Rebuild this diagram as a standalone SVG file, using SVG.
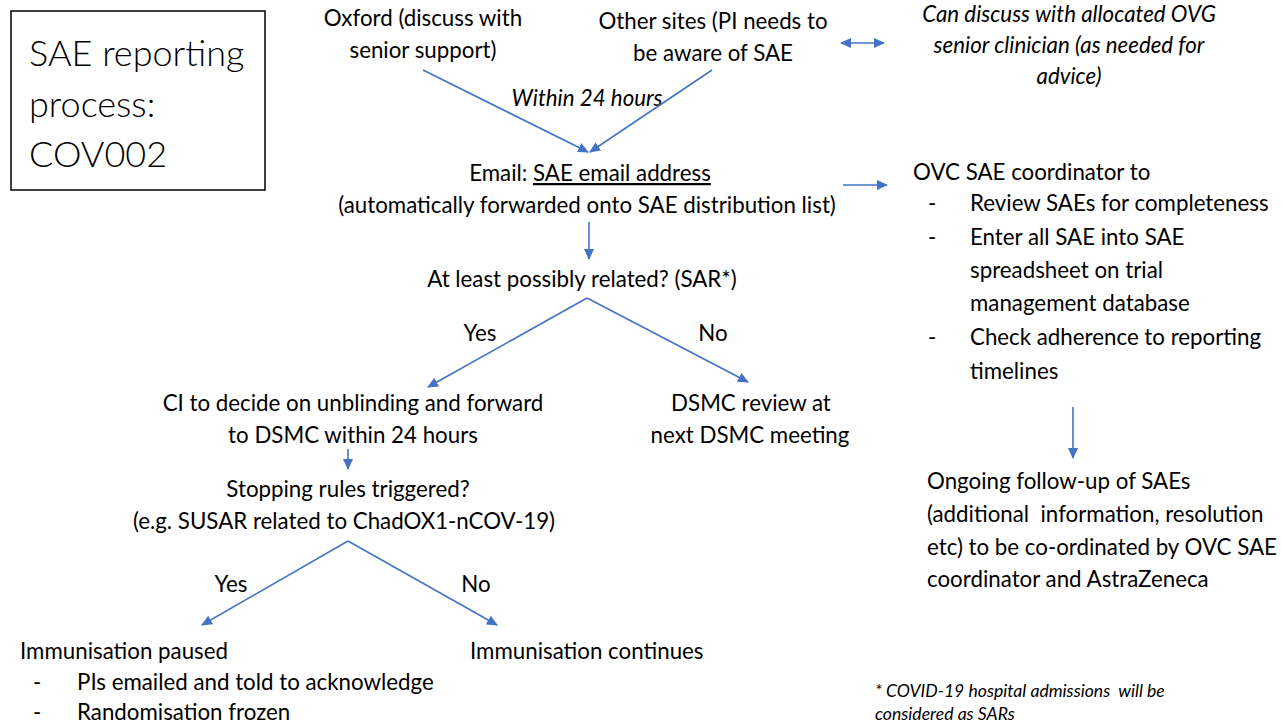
<svg xmlns="http://www.w3.org/2000/svg" width="1282" height="726" viewBox="0 0 1282 726">
<style>
  text { font-family: Lato, "Liberation Sans", sans-serif; font-size: 22.3px; fill: #000; }
  .c { text-anchor: middle; }
  .it { font-style: italic; }
  .title { font-size: 36px; font-weight: 300; }
  .foot { font-size: 17.6px; font-style: italic; }
  .ln { stroke: #4472C4; stroke-width: 1.6; fill: none; }
</style>
<defs>
  <marker id="ah" markerUnits="userSpaceOnUse" markerWidth="12" markerHeight="10" refX="10" refY="5" orient="auto-start-reverse">
    <path d="M0,0 L11,5 L0,10 Z" fill="#4472C4"/>
  </marker>
</defs>

<g id="title">
  <rect x="11" y="11" width="254" height="179" fill="#fff" stroke="#000" stroke-width="1.5"/>
  <text class="title" x="29" y="66">SAE reporting</text>
  <text class="title" x="29" y="117">process:</text>
  <text class="title" x="29" y="167">COV002</text>
</g>

<g id="oxford">
  <text class="c" x="423" y="26">Oxford (discuss with</text>
  <text class="c" x="423" y="58">senior support)</text>
</g>
<g id="other-sites">
  <text class="c" x="713" y="29">Other sites (PI needs to</text>
  <text class="c" x="713" y="61">be aware of SAE</text>
</g>
<g id="ovg-advice">
  <text class="c it" x="1069" y="22">Can discuss with allocated OVG</text>
  <text class="c it" x="1069" y="53">senior clinician (as needed for</text>
  <text class="c it" x="1069" y="84">advice)</text>
</g>
<g id="within-label">
  <text class="c it" x="587" y="106">Within 24 hours</text>
</g>
<g id="email">
  <text class="c" x="590" y="181">Email: <tspan text-decoration="underline">SAE email address</tspan></text>
  <text class="c" x="587" y="213">(automatically forwarded onto SAE distribution list)</text>
</g>
<g id="ovc-coordinator">
  <text x="913" y="180">OVC SAE coordinator to</text>
  <text x="928" y="211">-</text>
  <text x="970" y="211">Review SAEs for completeness</text>
  <text x="928" y="245">-</text>
  <text x="970" y="245">Enter all SAE into SAE</text>
  <text x="970" y="278">spreadsheet on trial</text>
  <text x="970" y="311">management database</text>
  <text x="928" y="345">-</text>
  <text x="970" y="345">Check adherence to reporting</text>
  <text x="970" y="379">timelines</text>
</g>
<g id="related-question">
  <text class="c" x="582" y="287">At least possibly related? (SAR*)</text>
</g>
<g id="branch1-labels">
  <text class="c" x="480" y="341">Yes</text>
  <text class="c" x="713" y="341">No</text>
</g>
<g id="ci-decide">
  <text class="c" x="353" y="411">CI to decide on unblinding and forward</text>
  <text class="c" x="353" y="443">to DSMC within 24 hours</text>
</g>
<g id="dsmc-review">
  <text class="c" x="751" y="411">DSMC review at</text>
  <text class="c" x="750" y="443">next DSMC meeting</text>
</g>
<g id="stopping-rules">
  <text class="c" x="348" y="497">Stopping rules triggered?</text>
  <text class="c" x="344" y="529">(e.g. SUSAR related to ChadOX1-nCOV-19)</text>
</g>
<g id="branch2-labels">
  <text class="c" x="231" y="592">Yes</text>
  <text class="c" x="476" y="592">No</text>
</g>
<g id="paused">
  <text x="20" y="659">Immunisation paused</text>
  <text x="33" y="690">-</text>
  <text x="77" y="690">PIs emailed and told to acknowledge</text>
  <text x="33" y="720">-</text>
  <text x="77" y="720">Randomisation frozen</text>
</g>
<g id="continues">
  <text x="470" y="659">Immunisation continues</text>
</g>
<g id="followup">
  <text x="927" y="489">Ongoing follow-up of SAEs</text>
  <text x="927" y="522" xml:space="preserve">(additional  information, resolution</text>
  <text x="927" y="555">etc) to be co-ordinated by OVC SAE</text>
  <text x="927" y="587">coordinator and AstraZeneca</text>
</g>
<g id="footnote">
  <text class="foot" x="875" y="697" xml:space="preserve">* COVID-19 hospital admissions  will be</text>
  <text class="foot" x="875" y="720">considered as SARs</text>
</g>

<g id="connectors">
  <line class="ln" x1="841" y1="43" x2="884" y2="43" marker-start="url(#ah)" marker-end="url(#ah)"/>
  <line class="ln" x1="423" y1="70" x2="588" y2="152" marker-end="url(#ah)"/>
  <line class="ln" x1="712" y1="70" x2="590" y2="152" marker-end="url(#ah)"/>
  <line class="ln" x1="843" y1="185" x2="887" y2="185" marker-end="url(#ah)"/>
  <line class="ln" x1="589" y1="222" x2="589" y2="259" marker-end="url(#ah)"/>
  <line class="ln" x1="587" y1="298" x2="428" y2="387" marker-end="url(#ah)"/>
  <line class="ln" x1="587" y1="298" x2="748" y2="382" marker-end="url(#ah)"/>
  <line class="ln" x1="348" y1="449" x2="348" y2="469" marker-end="url(#ah)"/>
  <line class="ln" x1="348" y1="541" x2="202" y2="625" marker-end="url(#ah)"/>
  <line class="ln" x1="348" y1="541" x2="497" y2="625" marker-end="url(#ah)"/>
  <line class="ln" x1="1073" y1="407" x2="1073" y2="458" marker-end="url(#ah)"/>
</g>
</svg>
